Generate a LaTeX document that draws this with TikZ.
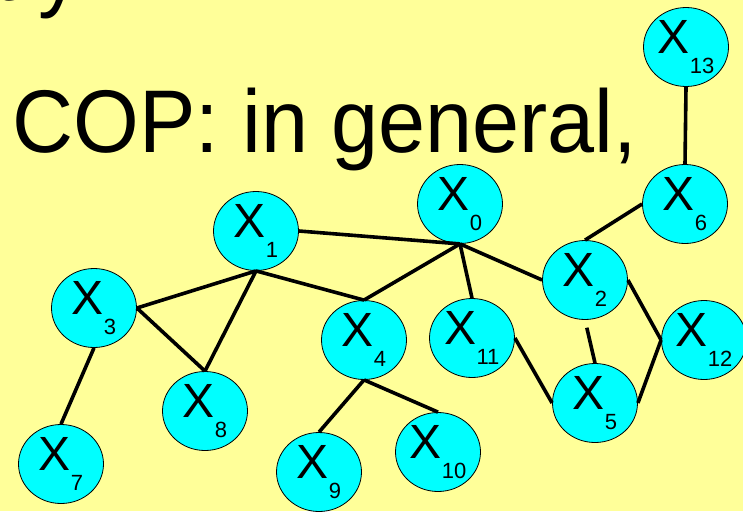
\documentclass[tikz,border=0pt]{standalone}
\usepackage{fontspec}
\setmainfont{Liberation Sans}
\usetikzlibrary{shapes.geometric}
\definecolor{bgyellow}{HTML}{FFFF99}
\definecolor{varcyan}{HTML}{00FFFF}

% variable label: large X with a lowered index
\newcommand{\varlabel}[1]{\fontsize{48}{48}\selectfont X\raisebox{-20pt}{\fontsize{22}{22}\selectfont #1}}
% heading text, slightly condensed
\newcommand{\headtext}[1]{\scalebox{0.95}[1]{\fontsize{89}{89}\selectfont #1}}

\begin{document}
\begin{tikzpicture}[x=1pt,y=-1pt,
  var/.style={ellipse, draw=black, line width=0.8pt, fill=varcyan,
    minimum width=85pt, minimum height=79pt, inner sep=0pt},
  link/.style={line width=3.6pt, black},
  bigtext/.style={anchor=base west, inner sep=0pt}]
\fill[bgyellow] (0,0) rectangle (743,511);
\useasboundingbox (0,0) rectangle (743,511);

% headings (the upper line runs off the top edge)
\node[bigtext] (prev) at (-7,1) {\headtext{t\kern23pt y}};
\node[bigtext] (title) at (12,152) {\headtext{COP: in general,}};

% variable positions
\coordinate (c0) at (460,204);
\coordinate (c1) at (256,231);
\coordinate (c2) at (585,280);
\coordinate (c3) at (94,308);
\coordinate (c4) at (364,340);
\coordinate (c5) at (595,403);
\coordinate (c6) at (685,204);
\coordinate (c7) at (61,464);
\coordinate (c8) at (205,411);
\coordinate (c9) at (319,472);
\coordinate (c10) at (438,452);
\coordinate (c11) at (472,338);
\coordinate (c12) at (704,340);
\coordinate (c13) at (686,47);

\node[var] (x0) at (c0) {\varlabel{0}};
\node[var] (x1) at (c1) {\varlabel{1}};
\node[var] (x2) at (c2) {\varlabel{2}};
\node[var] (x3) at (c3) {\varlabel{3}};
\node[var] (x4) at (c4) {\varlabel{4}};
\node[var] (x5) at (c5) {\varlabel{5}};
\node[var] (x6) at (c6) {\varlabel{6}};
\node[var] (x7) at (c7) {\varlabel{7}};
\node[var] (x8) at (c8) {\varlabel{8}};
\node[var] (x9) at (c9) {\varlabel{9}};
\node[var] (x10) at (c10) {\varlabel{10}};
\node[var] (x11) at (c11) {\varlabel{11}};
\node[var] (x12) at (c12) {\varlabel{12}};
\node[var] (x13) at (c13) {\varlabel{13}};

% constraint links
\draw[link] (x13.south) -- (x6.north);
\draw[link] (x6.west) -- (x2.north);
\draw[link] (x1.east) -- (x0.south);
\draw[link] (x0.south) -- (x4.north);
\draw[link] (x0.south) -- (x11.north);
\draw[link] (x0.south) -- (x2.west);
\draw[link] (x1.south) -- (x3.east);
\draw[link] (x1.south) -- (x8.north);
\draw[link] (x1.south) -- (x4.north);
\draw[link] (x3.east) -- (x8.north);
\draw[link] (x3.south) -- (x7.north);
\draw[link] (x4.south) -- (x9.north);
\draw[link] (x4.south) -- (x10.north);
\draw[link] (x11.east) -- (x5.west);
\draw[link, shorten <=8pt] (x2.south) -- (x5.north);
\draw[link] (x2.east) -- (x12.west);
\draw[link] (x5.east) -- (x12.west);
\end{tikzpicture}
\end{document}
